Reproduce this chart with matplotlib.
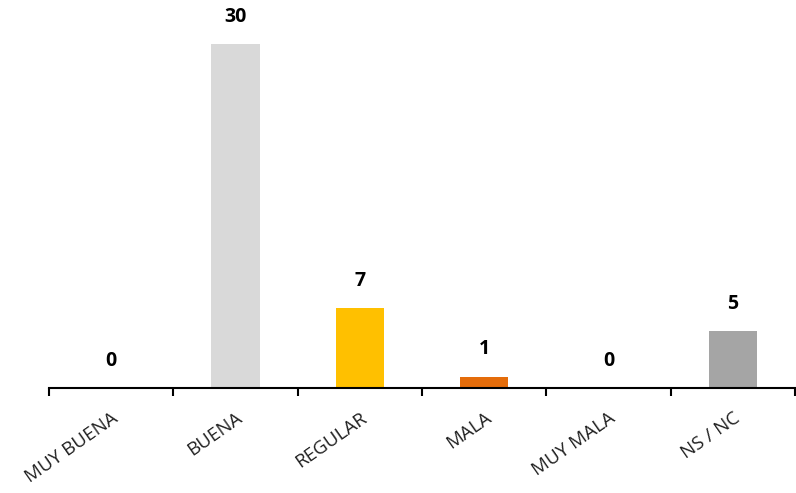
import matplotlib
matplotlib.use('Agg')
import matplotlib.pyplot as plt
import numpy as np

# ── Data ─────────────────────────────────────────────────────
categories = ['MUY BUENA', 'BUENA', 'REGULAR', 'MALA', 'MUY MALA', 'NS / NC']
values = [0, 30, 7, 1, 0, 5]
colors = ['#D9D9D9', '#D9D9D9', '#FFC000', '#E46C0A', '#D9D9D9', '#A5A5A5']

plt.rcParams['font.family'] = ['Open Sans', 'DejaVu Sans']

fig = plt.figure(figsize=(7.96, 4.93), dpi=100)
ax = fig.add_axes([49 / 796, 105 / 493, 746 / 796, 388 / 493])

x = np.arange(len(categories))
bars = ax.bar(x, values, width=0.39, color=colors)

for xi, v in zip(x, values):
    ax.annotate(str(v), (xi, v), xytext=(0, 19.5), textcoords='offset points',
                ha='center', va='center', fontsize=14, fontweight='bold')

ax.set_xlim(-0.5, len(categories) - 0.5)
ax.set_ylim(0, 33.8)

for s in ['top', 'right', 'left']:
    ax.spines[s].set_visible(False)
ax.spines['bottom'].set_linewidth(1.5)
ax.set_yticks([])

ax.set_xticks(x)
ax.set_xticklabels(categories, rotation=35, ha='right', rotation_mode='anchor',
                   fontsize=13.5, color='#202020')
ax.tick_params(axis='x', which='major', length=0, pad=15)
ax.set_xticks(np.arange(len(categories) + 1) - 0.5, minor=True)
ax.tick_params(axis='x', which='minor', length=6, width=1.5, direction='out')

fig.savefig('out.png', dpi=100)
